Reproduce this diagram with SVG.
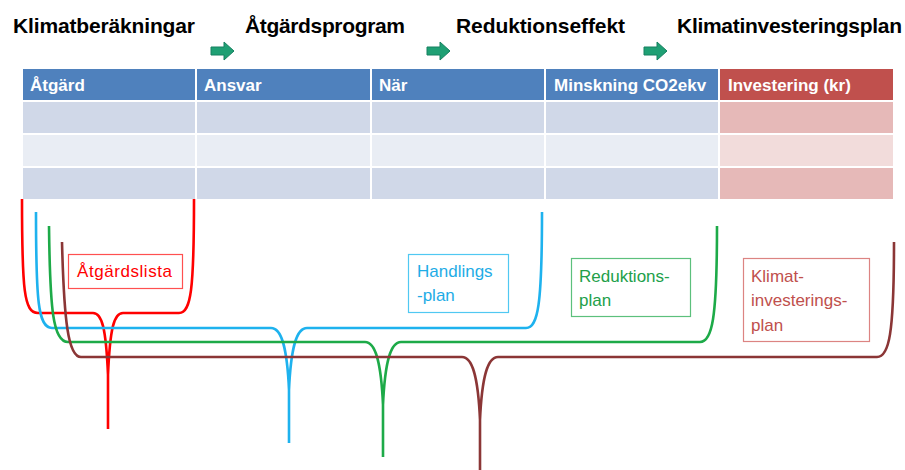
<svg xmlns="http://www.w3.org/2000/svg" width="905" height="470" viewBox="0 0 905 470">
<defs>
<style>
.title{font-family:"Liberation Sans",Arial,sans-serif;font-weight:bold;font-size:21px;fill:#000}
.hdr{font-family:"Liberation Sans",Arial,sans-serif;font-weight:bold;font-size:17px;fill:#fff}
.lbl{font-family:"Liberation Sans",Arial,sans-serif;font-size:17px}
.cell{stroke:#fff;stroke-width:2}
.brace{fill:none;stroke-width:2.6;stroke-linejoin:round}
.arrow{fill:#1FA074;stroke:#168060;stroke-width:1}
</style>
<path id="arr" d="M0,5 H13 V0 L23,9 L13,18 V13 H0 Z"/>
</defs>

<g id="titles">
<text class="title" x="13" y="33" textLength="182">Klimatberäkningar</text>
<text class="title" x="245" y="33" textLength="160">Åtgärdsprogram</text>
<text class="title" x="456" y="33" textLength="169">Reduktionseffekt</text>
<text class="title" x="677" y="33" textLength="225">Klimatinvesteringsplan</text>
</g>

<g id="arrows">
<use href="#arr" class="arrow" x="211" y="42"/>
<use href="#arr" class="arrow" x="427" y="42"/>
<use href="#arr" class="arrow" x="644" y="42"/>
</g>

<g id="table">
<rect class="cell" x="22" y="68" width="174" height="33" fill="#4F81BD"/>
<rect class="cell" x="196" y="68" width="175" height="33" fill="#4F81BD"/>
<rect class="cell" x="371" y="68" width="174" height="33" fill="#4F81BD"/>
<rect class="cell" x="545" y="68" width="174" height="33" fill="#4F81BD"/>
<rect class="cell" x="719" y="68" width="175" height="33" fill="#C0504D"/>

<rect class="cell" x="22" y="101" width="174" height="33" fill="#D0D8E8"/>
<rect class="cell" x="196" y="101" width="175" height="33" fill="#D0D8E8"/>
<rect class="cell" x="371" y="101" width="174" height="33" fill="#D0D8E8"/>
<rect class="cell" x="545" y="101" width="174" height="33" fill="#D0D8E8"/>
<rect class="cell" x="719" y="101" width="175" height="33" fill="#E6B9B8"/>

<rect class="cell" x="22" y="134" width="174" height="33" fill="#E9EDF4"/>
<rect class="cell" x="196" y="134" width="175" height="33" fill="#E9EDF4"/>
<rect class="cell" x="371" y="134" width="174" height="33" fill="#E9EDF4"/>
<rect class="cell" x="545" y="134" width="174" height="33" fill="#E9EDF4"/>
<rect class="cell" x="719" y="134" width="175" height="33" fill="#F2DCDB"/>

<rect class="cell" x="22" y="167" width="174" height="33" fill="#D0D8E8"/>
<rect class="cell" x="196" y="167" width="175" height="33" fill="#D0D8E8"/>
<rect class="cell" x="371" y="167" width="174" height="33" fill="#D0D8E8"/>
<rect class="cell" x="545" y="167" width="174" height="33" fill="#D0D8E8"/>
<rect class="cell" x="719" y="167" width="175" height="33" fill="#E6B9B8"/>

<text class="hdr" x="30" y="91">Åtgärd</text>
<text class="hdr" x="204" y="91">Ansvar</text>
<text class="hdr" x="379" y="91">När</text>
<text class="hdr" x="554" y="91">Minskning CO2ekv</text>
<text class="hdr" x="728" y="91">Investering (kr)</text>
</g>

<g id="connectors">
<path class="brace" stroke="#FF0000" d="M22,199 C22,290 24,313 38,313 L93,313 C102,313 106,328 108,375 L108,429 M108,375 C110,328 114,313 123,313 L179,313 C191,313 194,290 194,199"/>
<path class="brace" stroke="#1EB2EE" d="M36,212 C36,300 38,328 52,328 L271,328 C281,328 287,345 289,390 L289,443 M289,390 C291,345 297,328 307,328 L526,328 C538,328 542,305 542,212"/>
<path class="brace" stroke="#1DAA48" d="M49,226 C50,310 53,342 68,342 L365,342 C375,342 381,360 383,405 L383,457 M383,405 C385,360 391,342 401,342 L700,342 C712,342 717,320 717,226"/>
<path class="brace" stroke="#8B3636" d="M62,242 C64,320 68,357 81,357 L462,357 C472,357 478,375 480,420 L480,472 M480,420 C482,375 488,357 498,357 L877,357 C889,357 894,335 894,242"/>
</g>

<g id="atgardslista">
<rect x="68.5" y="254.5" width="114" height="34" fill="#fff" stroke="#FF5050" stroke-width="1.2"/>
<text class="lbl" x="77" y="277" fill="#FF0000" textLength="95">Åtgärdslista</text>
</g>

<g id="handlingsplan">
<rect x="408.5" y="254.5" width="100" height="58" fill="#fff" stroke="#50C8F2" stroke-width="1.2"/>
<text class="lbl" x="417" y="277" fill="#1EACE6">Handlings</text>
<text class="lbl" x="417" y="301" fill="#1EACE6">-plan</text>
</g>

<g id="reduktionsplan">
<rect x="571.5" y="258.5" width="119" height="58" fill="#fff" stroke="#5CC07C" stroke-width="1.2"/>
<text class="lbl" x="579" y="282" fill="#22A04A">Reduktions-</text>
<text class="lbl" x="579" y="306" fill="#22A04A">plan</text>
</g>

<g id="klimatinvesteringsplan">
<rect x="743.5" y="258.5" width="126" height="83" fill="#fff" stroke="#DC8482" stroke-width="1.2"/>
<text class="lbl" x="751" y="282" fill="#C0504D">Klimat-</text>
<text class="lbl" x="751" y="306" fill="#C0504D">investerings-</text>
<text class="lbl" x="751" y="331" fill="#C0504D">plan</text>
</g>
</svg>
